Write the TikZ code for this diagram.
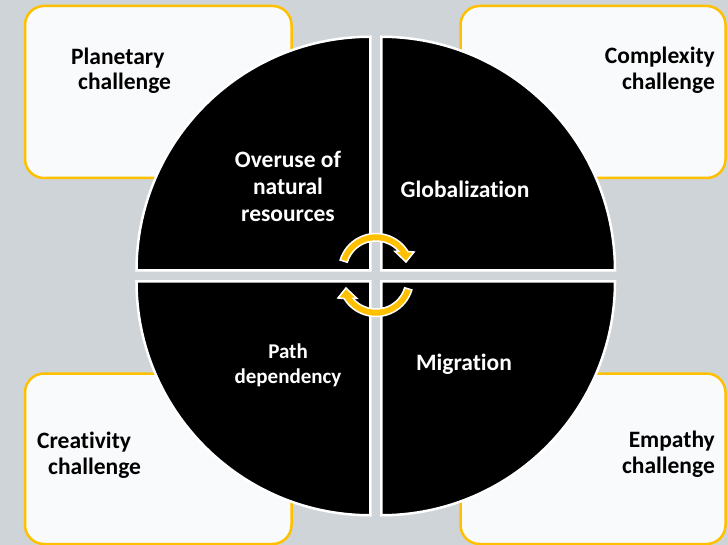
\documentclass[tikz,border=0pt]{standalone}
\usepackage{fontspec}
\setmainfont{Carlito}[Ligatures={NoCommon,NoContextual}]
\definecolor{bg}{HTML}{CFD4D8}
\definecolor{gold}{HTML}{FFC000}
\definecolor{boxfill}{HTML}{F9FAFB}
\begin{document}
\begin{tikzpicture}[x=1pt,y=-1pt,
  box/.style={draw=gold, line width=2.5pt, fill=boxfill, rounded corners=19pt},
  pie/.style={fill=black, draw=white, line width=2.5pt, line join=miter},
  arr/.style={fill=gold, draw=white, line width=1.5pt, line join=miter},
  dark/.style={inner sep=0pt, font=\bfseries\fontsize{23.5}{26}\selectfont, text=black},
  light/.style={inner sep=0pt, font=\bfseries\fontsize{23.5}{26}\selectfont, text=white},
  lightsmall/.style={inner sep=0pt, font=\bfseries\fontsize{21}{24}\selectfont, text=white},
]
\useasboundingbox (0,0) rectangle (728,545);
\fill[bg] (0,0) rectangle (728,545);

% corner boxes
\draw[box] (25,6) rectangle (291.5,178);
\draw[box] (460.5,6) rectangle (725.5,178);
\draw[box] (25,373.5) rectangle (291.5,544);
\draw[box] (460.5,373.5) rectangle (725.5,544);

% pies
\draw[pie] (370.25,270.5) -- ++(-233.75,0) arc[start angle=180, end angle=270, radius=233.75] -- cycle;
\draw[pie] (381.25,270.5) -- ++(0,-233.75) arc[start angle=270, end angle=360, radius=233.75] -- cycle;
\draw[pie] (381.25,281.5) -- ++(233.75,0) arc[start angle=0, end angle=90, radius=233.75] -- cycle;
\draw[pie] (370.25,281.5) -- ++(0,233.75) arc[start angle=90, end angle=180, radius=233.75] -- cycle;

% circular arrows
\filldraw[arr] (340.14,260.04) arc[start angle=197, end angle=328.7, radius=37.5]
  -- (414,252) -- (406,262) -- (395,251.5) -- (398.8,251.5)
  arc[start angle=319.5, end angle=197, radius=30] -- cycle;
\begin{scope}[rotate around={180:(376,275)}]
\filldraw[arr] (340.14,260.04) arc[start angle=197, end angle=328.7, radius=37.5]
  -- (414,252) -- (406,262) -- (395,251.5) -- (398.8,251.5)
  arc[start angle=319.5, end angle=197, radius=30] -- cycle;
\end{scope}

% box texts
\node[dark, anchor=base west] (p1) at (71,65) {Planetary};
\node[dark, anchor=base west] (p2) at (78,90) {challenge};
\node[dark, anchor=base east] (c1) at (715,64) {Complexity};
\node[dark, anchor=base east] (c2) at (715,90) {challenge};
\node[dark, anchor=base west] (r1) at (37,448) {Creativity};
\node[dark, anchor=base west] (r2) at (48,474) {challenge};
\node[dark, anchor=base east] (e1) at (715,447) {Empathy};
\node[dark, anchor=base east] (e2) at (715,473) {challenge};

% circle texts
\node[light, anchor=base] (o1) at (288,168) {Overuse of};
\node[light, anchor=base] (o2) at (288,195) {natural};
\node[light, anchor=base] (o3) at (288,222) {resources};
\node[light, anchor=base] (g) at (465,198) {Globalization};
\node[lightsmall, anchor=base] (pd1) at (288,358) {Path};
\node[lightsmall, anchor=base] (pd2) at (288,383) {dependency};
\node[light, anchor=base] (m) at (464,370.5) {Migration};
\end{tikzpicture}
\end{document}
